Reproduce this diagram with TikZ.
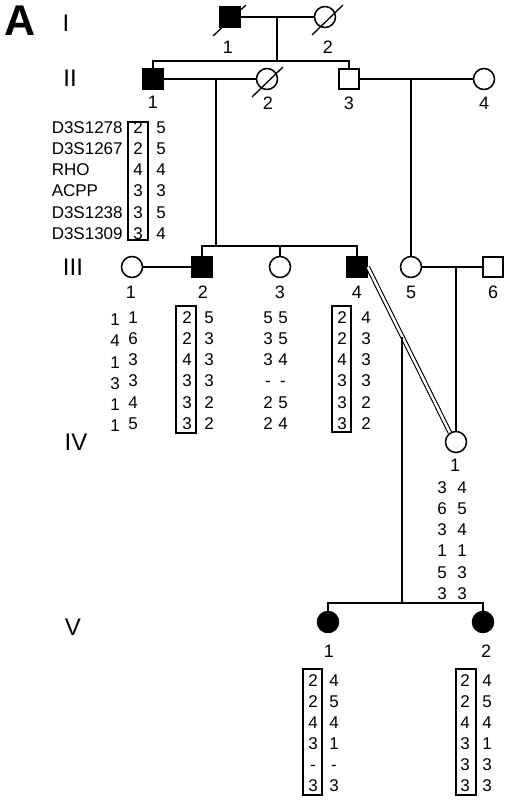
\documentclass[tikz,border=0pt]{standalone}
\usepackage{fontspec}
\setmainfont{Liberation Sans}
\usetikzlibrary{calc}
\begin{document}
\begin{tikzpicture}[x=1bp,y=-1bp,line width=1.5bp,
  male/.style={draw,rectangle,minimum size=20bp,inner sep=0pt},
  female/.style={draw,circle,minimum size=21bp,inner sep=0pt},
  aff/.style={fill=black},
  lbl/.style={inner sep=0pt,text height=13bp,text depth=0pt,font=\fontsize{18bp}{18bp}\selectfont},
  al/.style={inner sep=0pt,text height=12.5bp,text depth=0pt,font=\fontsize{17bp}{17bp}\selectfont},
  gen/.style={inner sep=0pt,text height=17bp,text depth=0pt,font=\fontsize{24bp}{24bp}\selectfont},
  slash/.style={line width=1.3bp},
  boxl/.style={line width=1.3bp}]
\useasboundingbox (0,0) rectangle (511,801);
% panel and generation labels
\node[inner sep=0pt,font=\bfseries\fontsize{43bp}{43bp}\selectfont] (A) at (20,21) {A};
\node[gen] (gI) at (66,23) {I};
\node[gen] (gII) at (70,78) {II};
\node[gen] (gIII) at (73,267) {III};
\node[gen] (gIV) at (76,442) {IV};
\node[gen] (gV) at (73,627) {V};
% individuals
\node[male,aff] (I1) at (230,17) {};
\node[female] (I2) at (325,17) {};
\node[male,aff] (II1) at (153,79) {};
\node[female] (II2) at (267,79) {};
\node[male] (II3) at (349,79) {};
\node[female] (II4) at (484,79) {};
\node[female] (III1) at (132,267) {};
\node[male,aff] (III2) at (202,267) {};
\node[female] (III3) at (280,267) {};
\node[male,aff] (III4) at (357,267) {};
\node[female] (III5) at (411,267) {};
\node[male] (III6) at (493,267) {};
\node[female] (IV1) at (456,442) {};
\node[female,aff] (V1) at (328,622) {};
\node[female,aff] (V2) at (483,622) {};
% deceased slashes
\draw[slash] (213,36) -- (246,5);
\draw[slash] (312,35) -- (343,5);
\draw[slash] (252,97) -- (283,67);
% individual numbers
\node[lbl] (lI1) at (228,47) {1};
\node[lbl] (lI2) at (328,47) {2};
\node[lbl] (lII1) at (153,102) {1};
\node[lbl] (lII2) at (268,103) {2};
\node[lbl] (lII3) at (349,103) {3};
\node[lbl] (lII4) at (484,103) {4};
\node[lbl] (lIII1) at (131,292) {1};
\node[lbl] (lIII2) at (203,292) {2};
\node[lbl] (lIII3) at (280,292) {3};
\node[lbl] (lIII4) at (357,292) {4};
\node[lbl] (lIII5) at (411,292) {5};
\node[lbl] (lIII6) at (493,292) {6};
\node[lbl] (lIV1) at (455,465) {1};
\node[lbl] (lV1) at (329,651) {1};
\node[lbl] (lV2) at (486,651) {2};
% connectors generation I-II
\draw (I1.east) -- (I2.west);
\coordinate (dI) at (277,17);
\coordinate (sII) at (277,61);
\draw (dI) -- (sII);
\draw (II1.north) |- (sII) -| (II3.north);
\draw (II1.east) -- (II2.west);
\draw (II3.east) -- (II4.west);
% II -> III
\coordinate (dII1) at (216,79);
\coordinate (sIII) at (216,246);
\draw (dII1) -- (sIII);
\draw (III2.north) |- (sIII) -| (III4.north);
\draw (III3.north) -- (III3.north |- sIII);
\coordinate (dII3) at (411,79);
\draw (dII3) -- (III5.north);
\draw (III1.east) -- (III2.west);
\draw (III5.east) -- (III6.west);
\coordinate (dIII5) at (456,267);
\draw (dIII5) -- (IV1.north);
% consanguineous mating III-4 x IV-1
\draw[double,double distance=2.4bp,line width=1.1bp] (III4.east) -- (IV1.123);
\coordinate (dm) at ($(III4.east)!0.42!(IV1.123)$);
\coordinate (sV) at (402,603);
\draw (dm) -- (dm |- sV);
\draw (V1.north) |- (sV) -| (V2.north);
% marker names
\foreach \n/\y in {D3S1278/127,D3S1267/148,RHO/169,ACPP/190,D3S1238/212,D3S1309/233}
  \node[al,anchor=west] (m-\n) at (51,\y) {\n};
% II-1 alleles
\foreach \a/\b [count=\i] in {2/5,2/5,4/4,3/3,3/5,3/4}{
  \pgfmathsetmacro{\yy}{127+21.2*(\i-1)}
  \node[al] (II1a\i) at (138,\yy) {\a};
  \node[al] (II1b\i) at (161,\yy) {\b};}
\draw[boxl] (128,122) rectangle (148,240);
% III alleles
\foreach \a/\b [count=\i] in {1/1,4/6,1/3,3/3,1/4,1/5}{
  \pgfmathsetmacro{\yy}{317+21.2*(\i-1)}
  \node[al] (III1a\i) at (115,\yy+2.5) {\a};
  \node[al] (III1b\i) at (133,\yy) {\b};}
\foreach \a/\b [count=\i] in {2/5,2/3,4/3,3/3,3/2,3/2}{
  \pgfmathsetmacro{\yy}{317+21.2*(\i-1)}
  \node[al] (III2a\i) at (187,\yy) {\a};
  \node[al] (III2b\i) at (209,\yy) {\b};}
\draw[boxl] (176,306) rectangle (196,433);
\foreach \a/\b [count=\i] in {5/5,3/5,3/4,-/-,2/5,2/4}{
  \pgfmathsetmacro{\yy}{317+21.2*(\i-1)}
  \node[al] (III3a\i) at (268,\yy) {\a};
  \node[al] (III3b\i) at (283,\yy) {\b};}
\foreach \a/\b [count=\i] in {2/4,2/3,4/3,3/3,3/2,3/2}{
  \pgfmathsetmacro{\yy}{317+21.2*(\i-1)}
  \node[al] (III4a\i) at (342,\yy) {\a};
  \node[al] (III4b\i) at (366,\yy) {\b};}
\draw[boxl] (332,306) rectangle (351,432);
% IV alleles
\foreach \a/\b [count=\i] in {3/4,6/5,3/4,1/1,5/3,3/3}{
  \pgfmathsetmacro{\yy}{487+21.2*(\i-1)}
  \node[al] (IV1a\i) at (442,\yy) {\a};
  \node[al] (IV1b\i) at (462,\yy) {\b};}
% V alleles
\foreach \a/\b [count=\i] in {2/4,2/5,4/4,3/1,-/-,3/3}{
  \pgfmathsetmacro{\yy}{680+21*(\i-1)}
  \node[al] (V1a\i) at (313,\yy) {\a};
  \node[al] (V1b\i) at (334,\yy) {\b};}
\draw[boxl] (303,669) rectangle (322,795);
\foreach \a/\b [count=\i] in {2/4,2/5,4/4,3/1,3/3,3/3}{
  \pgfmathsetmacro{\yy}{680+21*(\i-1)}
  \node[al] (V2a\i) at (465,\yy) {\a};
  \node[al] (V2b\i) at (487,\yy) {\b};}
\draw[boxl] (456,669) rectangle (476,795);
\end{tikzpicture}
\end{document}
